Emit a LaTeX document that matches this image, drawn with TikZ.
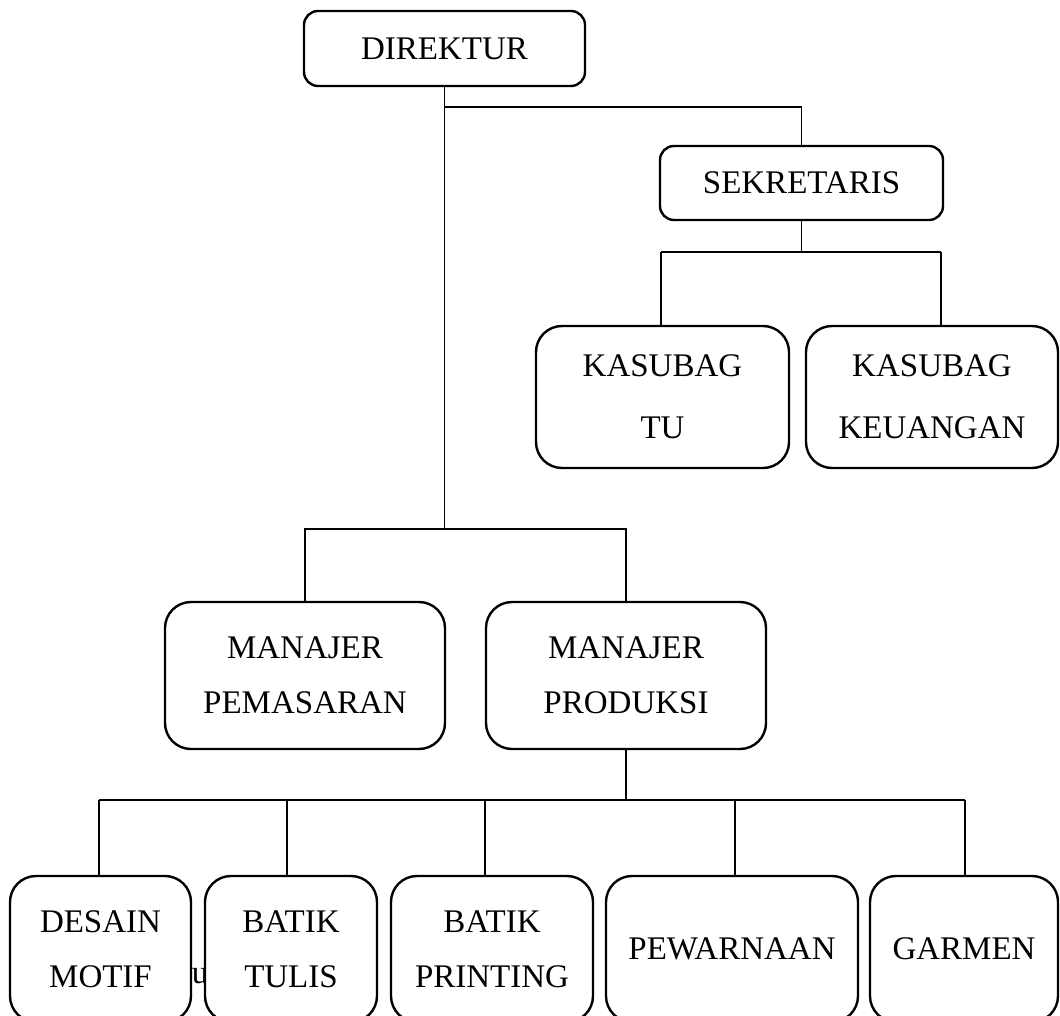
\documentclass[tikz,border=0pt]{standalone}
\usepackage{fontspec}
\setmainfont{Liberation Serif}
\begin{document}
\begin{tikzpicture}[x=0.5pt, y=-0.5pt,
    box/.style={draw, line width=1.2pt, rounded corners=7pt, fill=white, align=center,
      inner sep=0pt, outer sep=0pt, font=\fontsize{16.5}{27.5}\selectfont},
    bigbox/.style={box, rounded corners=13pt},
    link/.style={line width=0.9pt}]

        \useasboundingbox (0,0) rectangle (1060,1016);
        \clip (0,0) rectangle (1060,1016);

        % Top level
        \node[box, minimum width=140.5pt, minimum height=37.5pt] (dir) at (444.5,48.5) {DIREKTUR};
        \node[box, minimum width=141.5pt, minimum height=37pt] (sek) at (801.5,183) {SEKRETARIS};

        % Under sekretaris
        \node[bigbox, minimum width=126.5pt, minimum height=71pt, font=\fontsize{16.5}{31}\selectfont] (tu) at (662.5,397) {KASUBAG\\TU};
        \node[bigbox, minimum width=126pt, minimum height=71pt, font=\fontsize{16.5}{31}\selectfont] (keu) at (932,397) {KASUBAG\\KEUANGAN};

        % Managers
        \node[bigbox, minimum width=140pt, minimum height=73.5pt] (pem) at (305,675.5) {MANAJER\\PEMASARAN};
        \node[bigbox, minimum width=140pt, minimum height=73.5pt] (prod) at (626,675.5) {MANAJER\\PRODUKSI};

        % Production units
        \node[bigbox, minimum width=90.5pt, minimum height=73pt] (desain) at (100.5,949) {DESAIN\\MOTIF};
        \node[font=\fontsize{16.5}{20}\selectfont, inner sep=0pt, anchor=base] (stray) at (200,983) {u};
        \node[bigbox, minimum width=86pt, minimum height=73pt] (tulis) at (291,949) {BATIK\\TULIS};
        \node[bigbox, minimum width=101pt, minimum height=73pt] (printing) at (492,949) {BATIK\\PRINTING};
        \node[bigbox, minimum width=126pt, minimum height=73pt] (warna) at (732,949) {PEWARNAAN};
        \node[bigbox, minimum width=94pt, minimum height=73pt] (garmen) at (964,949) {GARMEN};

        % Junctions
        \coordinate (jS) at (444.5,107);
        \coordinate (jM) at (444.5,529);
        \coordinate (jK) at (801.5,252);
        \coordinate (kL) at (661,252);
        \coordinate (kR) at (941,252);
        \coordinate (jB) at (624,800);

        % Lines
        \draw[link] (dir.south) -- (jM);
        \draw[link] (jS) -| (sek.north);
        \draw[link] (sek.south) -- (jK);
        \draw[link] (kL) -- (kR);
        \draw[link] (kL) -- (kL |- tu.north);
        \draw[link] (kR) -- (kR |- keu.north);
        \draw[link] (pem.north) |- (jM) -| (prod.north);
        \draw[link] (prod.south) -- (prod.south |- jB);
        \draw[link] (99,800) -- (965,800);
        \foreach \n/\x in {desain/99, tulis/287, printing/485, warna/735, garmen/965}
            \draw[link] (\x,800) -- (\x,0 |- \n.north);

\end{tikzpicture}
\end{document}
